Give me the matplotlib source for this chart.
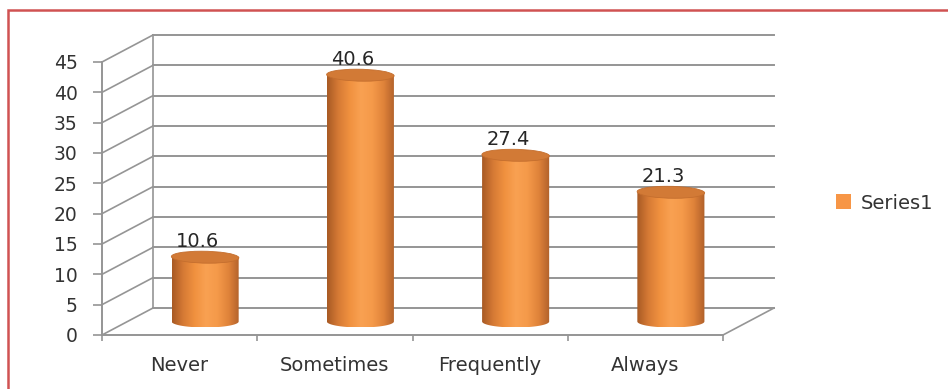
import numpy as np
import matplotlib.pyplot as plt
from matplotlib.patches import Ellipse, PathPatch, Rectangle, Patch
from matplotlib.path import Path
from matplotlib.colors import LinearSegmentedColormap

categories = ["Never", "Sometimes", "Frequently", "Always"]
values = [10.6, 40.6, 27.4, 21.3]
series_name = "Series1"
yticks = [0, 5, 10, 15, 20, 25, 30, 35, 40, 45]

W, H = 948, 389
fig = plt.figure(figsize=(W / 100, H / 100), dpi=100)

# front plane of the plot box, in pixels
x0, x1, ytop, ybot = 102, 723, 62, 335
ax = fig.add_axes([x0 / W, 1 - ybot / H, (x1 - x0) / W, (ybot - ytop) / H])

# oblique depth offset, converted to data units
n = len(categories)
px_x = (x1 - x0) / n
px_y = (ybot - ytop) / 45
DX = 51 / px_x
DY = 27 / px_y

grid_c = "#959595"
for v in yticks:
    ax.plot([DX, n + DX], [v + DY, v + DY], color=grid_c, lw=1.4, clip_on=False, zorder=1)
    ax.plot([0, DX], [v, v + DY], color=grid_c, lw=1.2, clip_on=False, zorder=1)
ax.plot([DX, DX], [DY, 45 + DY], color=grid_c, lw=1.2, clip_on=False, zorder=1)
ax.plot([n, n + DX], [0, DY], color=grid_c, lw=1.2, clip_on=False, zorder=1)

for s in ["top", "right"]:
    ax.spines[s].set_visible(False)
for s in ["left", "bottom"]:
    ax.spines[s].set_color(grid_c)
    ax.spines[s].set_linewidth(1.4)

ax.set_yticks(yticks)
ax.tick_params(axis="y", direction="out", length=6.5, width=1.2, color=grid_c,
               pad=11, labelsize=13.5, labelcolor="#333333")
ax.set_xticks(range(n + 1))
ax.set_xticklabels([])
ax.set_xticks([i + 0.5 for i in range(n)], minor=True)
ax.set_xticklabels(categories, minor=True)
ax.tick_params(axis="x", which="major", direction="out", length=4, width=1.2, color=grid_c)
ax.tick_params(axis="x", which="minor", length=0, pad=15, labelsize=14, labelcolor="#333333")
ax.set_facecolor("none")

cmap = LinearSegmentedColormap.from_list(
    "cyl", ["#a85a24", "#d67a35", "#f0913f", "#f9a152", "#f59a4a", "#e0833a", "#b0602a"])
grad = np.linspace(0, 1, 256).reshape(1, -1)

hw = 0.216          # half width of a cylinder
eh = 6 / px_y       # half height of the end ellipses
base = DY / 2       # cylinders stand at mid depth
th = np.linspace(np.pi, 2 * np.pi, 60)
for i, v in enumerate(values):
    cx = i + 0.5 + DX / 2
    top = base + v
    bottom_arc = np.column_stack([cx + hw * np.cos(th), base + eh * np.sin(th)])
    verts = np.vstack([[[cx - hw, top]], bottom_arc, [[cx + hw, top]]])
    body = PathPatch(Path(verts), facecolor="none", edgecolor="none")
    ax.add_patch(body)
    im = ax.imshow(grad, cmap=cmap, aspect="auto", zorder=3,
                   extent=(cx - hw, cx + hw, base - eh, top))
    im.set_clip_path(body)
    ax.add_patch(Ellipse((cx, top), 2 * hw, 2 * eh, angle=1.5,
                         facecolor="#d27a36", edgecolor="#c46e2e", lw=0.6, zorder=4))
    ax.text(cx - 0.05, top + eh + 0.1, f"{v}", ha="center", va="bottom",
            fontsize=14, color="#262626", zorder=5)

ax.set_xlim(0, n)
ax.set_ylim(0, 45)

fig.legend(handles=[Patch(facecolor="#f79646", edgecolor="none", label=series_name)],
           loc="center left", bbox_to_anchor=(818 / W, 1 - 203 / H), frameon=False,
           handlelength=0.8, handleheight=0.8, handletextpad=0.5, fontsize=14,
           labelcolor="#333333")

# red frame, only its top and left edges fall inside the picture
fig.patches.append(Rectangle((8 / W, -0.1), 1.2, 1.1 - 10.5 / H, transform=fig.transFigure,
                             facecolor="none", edgecolor="#d05252", lw=1.8))

fig.savefig("out.png", dpi=100)
